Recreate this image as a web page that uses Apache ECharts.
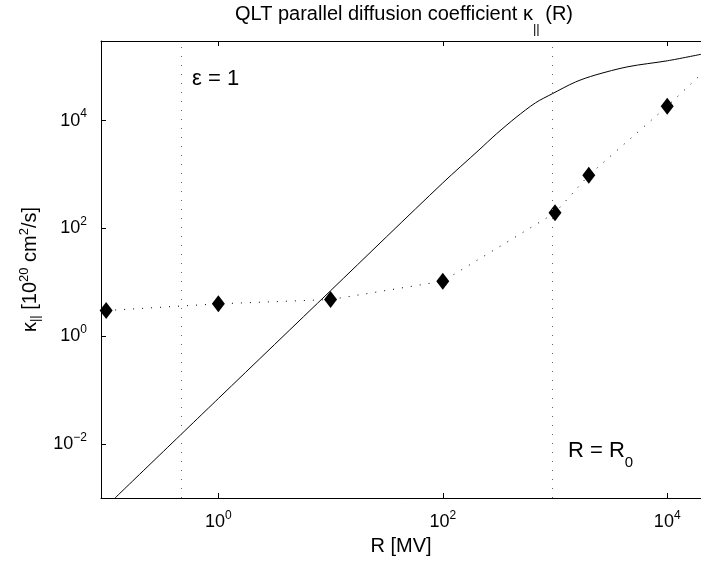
<!DOCTYPE html>
<html><head><meta charset="utf-8">
<script src="https://cdn.jsdelivr.net/npm/echarts@6/dist/echarts.min.js"></script>
<style>html,body{margin:0;padding:0;background:#fff}#c{width:701px;height:563px}</style>
</head><body><div id="c"></div>
<script>
// ---- data ----
const xTicks = [1, 100, 10000];
const yTicks = [0.01, 1, 100, 10000];
const xRange = [0.09, 20000];
const yRange = [0.001, 300000];
// QLT theory curve (solid)
const theoryR = [0.12, 1, 10, 100, 210, 300, 450, 670, 945, 1520, 2280, 4470, 10070, 20000];
const theoryK = [0.001, 0.070, 7.0, 700, 2850, 5650, 11500, 21400, 31500, 52000, 70000, 100000, 129000, 170000];
// observed values (diamonds, dotted)
const obsR = [0.1, 1, 10, 100, 1000, 2000, 10000, 20000];
const obsK = [3, 4, 4.8, 10.5, 195, 970, 18500, 72000];
const obsMarker = [true, true, true, true, true, true, true, false];
// vertical reference lines: epsilon = 1 and R = R0
const refLines = [0.47, 940];

const FONT = 'Liberation Sans, Arial, Helvetica, sans-serif';
const chart = echarts.init(document.getElementById('c'), null, {renderer: 'canvas'});

function powLabel(v) {
  const e = Math.round(Math.log10(v));
  const s = e < 0 ? '\u2212' + (-e) : String(e);
  return '{b|10}{s|' + s + '}';
}
const tickRich = {
  b: {fontSize: 18, fontFamily: FONT, color: '#000'},
  s: {fontSize: 12, fontFamily: FONT, color: '#000', padding: [0, 0, 13, 0]}
};

const option = {
  animation: false,
  backgroundColor: '#fff',
  grid: {left: 101, top: 41, right: -6, bottom: 65, containLabel: false},
  xAxis: [{
    type: 'log', logBase: 10, min: xRange[0], max: xRange[1], position: 'bottom',
    name: 'R [MV]', nameLocation: 'middle', nameGap: 30,
    nameTextStyle: {fontSize: 20, fontFamily: FONT, color: '#000'},
    axisLine: {show: true, lineStyle: {color: '#000', width: 1}},
    axisTick: {show: true, inside: true, length: 5, customValues: xTicks, lineStyle: {color: '#000'}},
    axisLabel: {show: true, margin: 12, customValues: xTicks, formatter: powLabel, rich: tickRich},
    splitLine: {show: false}, minorTick: {show: false}
  }, {
    type: 'log', logBase: 10, min: xRange[0], max: xRange[1], position: 'top',
    axisLine: {show: true, lineStyle: {color: '#000', width: 1}},
    axisTick: {show: true, inside: true, length: 5, customValues: xTicks, lineStyle: {color: '#000'}},
    axisLabel: {show: false}, splitLine: {show: false}
  }],
  yAxis: [{
    type: 'log', logBase: 10, min: yRange[0], max: yRange[1], position: 'left',
    name: '\u03ba{sub|||} [10{sup|20} cm{sup|2}/s]', nameLocation: 'middle', nameRotate: 90, nameGap: 58,
    nameTextStyle: {fontSize: 20, fontFamily: FONT, color: '#000', rich: {
      sub: {fontSize: 13, fontFamily: FONT, color: '#000', padding: [11, 0, 0, 0]},
      sup: {fontSize: 13, fontFamily: FONT, color: '#000', padding: [0, 0, 11, 0]}
    }},
    axisLine: {show: true, lineStyle: {color: '#000', width: 1}},
    axisTick: {show: true, inside: true, length: 5, customValues: yTicks, lineStyle: {color: '#000'}},
    axisLabel: {show: true, margin: 14, customValues: yTicks, formatter: powLabel, rich: tickRich},
    splitLine: {show: false}, minorTick: {show: false}
  }],
  series: [{
    name: 'theory', type: 'line', xAxisIndex: 0, yAxisIndex: 0,
    data: theoryR.map((r, i) => [r, theoryK[i]]),
    showSymbol: false, symbol: 'none', smooth: 0.3,
    lineStyle: {color: '#000', width: 1}, clip: true, silent: true
  }, {
    name: 'observed', type: 'line', xAxisIndex: 0, yAxisIndex: 0,
    data: obsR.map((r, i) => obsMarker[i] ? [r, obsK[i]] : {value: [r, obsK[i]], symbol: 'none'}),
    symbol: 'diamond', symbolSize: [13, 17], showSymbol: true,
    itemStyle: {color: '#000'},
    lineStyle: {color: '#000', width: 1, type: [1, 8]}, clip: true, silent: true,
    markLine: {
      silent: true, symbol: ['none', 'none'], label: {show: false}, animation: false,
      lineStyle: {color: '#666', width: 1, type: [1, 8]},
      data: refLines.map(v => ({xAxis: v}))
    }
  }],
  graphic: [{
    type: 'text', x: 404, y: 14,
    style: {text: 'QLT parallel diffusion coefficient \u03ba{sub|||} (R)', fontSize: 20, fontFamily: FONT, fill: '#000',
      align: 'center', verticalAlign: 'middle',
      rich: {sub: {fontSize: 13, fontFamily: FONT, fill: '#000', padding: [30, 0, 0, 0]}}}
  }, {
    type: 'text', x: 192, y: 79,
    style: {text: '\u03b5 = 1', fontSize: 22, fontFamily: FONT, fill: '#000', align: 'left', verticalAlign: 'middle'}
  }, {
    type: 'text', x: 568, y: 451,
    style: {text: 'R = R{sub|0}', fontSize: 22, fontFamily: FONT, fill: '#000', align: 'left', verticalAlign: 'middle',
      rich: {sub: {fontSize: 15, fontFamily: FONT, fill: '#000', padding: [24, 0, 0, 0]}}}
  }]
};
chart.setOption(option);
</script></body></html>
